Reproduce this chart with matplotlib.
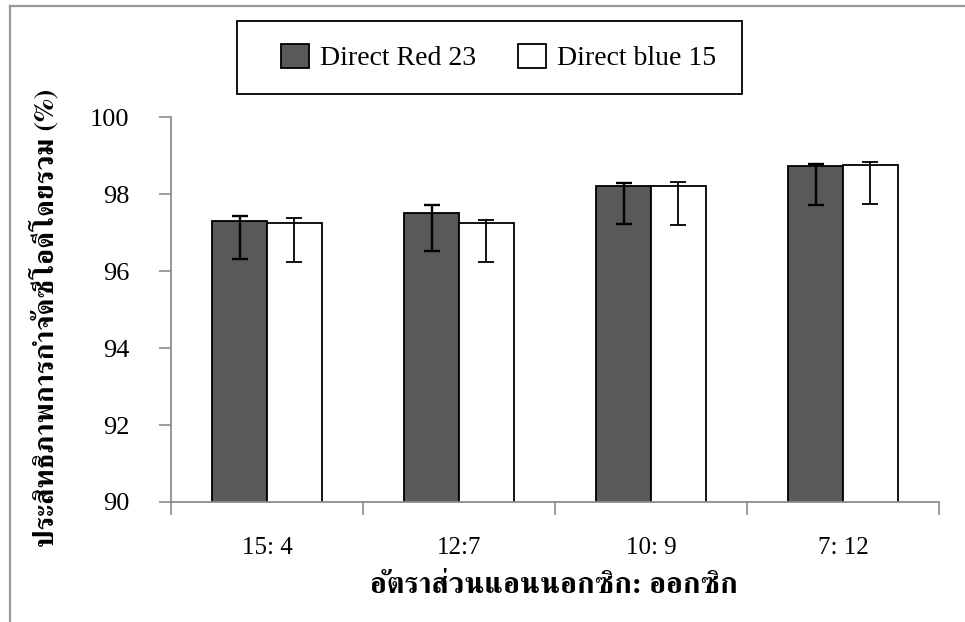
import matplotlib
matplotlib.use('Agg')
import matplotlib.pyplot as plt
from matplotlib.lines import Line2D
from matplotlib.patches import Rectangle
import numpy as np

# data
ratios = ['15: 4', '12:7', '10: 9', '7: 12']
red23 = [97.31, 97.52, 98.22, 98.73]
red23_up = [0.12, 0.19, 0.07, 0.06]
red23_low = [1.0, 1.0, 1.0, 1.0]
blue15 = [97.24, 97.24, 98.21, 98.75]
blue15_up = [0.13, 0.08, 0.10, 0.08]
blue15_low = [1.0, 1.0, 1.0, 1.0]

ylabel_text = 'ประสิทธิภาพการกำจัดซีโอดีโดยรวม (%)'
xlabel_text = 'อัตราส่วนแอนนอกซิก: ออกซิก'

plt.rcParams['font.family'] = ['Liberation Serif', 'FreeSerif', 'DejaVu Sans']

W, H = 965, 622
fig = plt.figure(figsize=(W / 100, H / 100), dpi=100)
ax = fig.add_axes([171 / W, 1 - 502 / H, (939 - 171) / W, (502 - 117.3) / H])

x = np.arange(len(ratios))
w = 0.286
ax.bar(x - w / 2, red23, w, color='#595959', edgecolor='black', linewidth=1.3,
       label='Direct Red 23', zorder=2)
ax.bar(x + w / 2, blue15, w, color='white', edgecolor='black', linewidth=1.3,
       label='Direct blue 15', zorder=2)
ax.errorbar(x - w / 2, red23, yerr=[red23_low, red23_up], fmt='none', ecolor='black',
            elinewidth=1.7, capsize=5.5, capthick=1.7, zorder=3)
ax.errorbar(x + w / 2, blue15, yerr=[blue15_low, blue15_up], fmt='none', ecolor='black',
            elinewidth=1.3, capsize=5.5, capthick=1.3, zorder=3)

ax.set_ylim(90, 100)
ax.set_xlim(-0.5, len(ratios) - 0.5)
ax.set_yticks([90, 92, 94, 96, 98, 100])
ax.tick_params(axis='y', labelsize=19, length=9, width=1.2, color='#8c8c8c', pad=21)

ax.set_xticks(np.arange(-0.5, len(ratios)), minor=False)
ax.set_xticklabels([])
ax.set_xticks(x, minor=True)
ax.set_xticklabels(ratios, minor=True)
ax.tick_params(axis='x', which='major', length=9, width=1.2, color='#8c8c8c')
ax.tick_params(axis='x', which='minor', length=0, labelsize=18, pad=25)

for side in ['top', 'right']:
    ax.spines[side].set_visible(False)
for side in ['left', 'bottom']:
    ax.spines[side].set_color('#8c8c8c')
    ax.spines[side].set_linewidth(1.3)

fig.text(45 / W, 1 - 318 / H, ylabel_text, rotation=90, ha='center', va='center',
         fontsize=20.5, fontweight='bold', family=['FreeSerif'])
fig.text(554 / W, 1 - 586 / H, xlabel_text, ha='center', va='center',
         fontsize=21.5, fontweight='bold', family=['FreeSerif'])

# legend without frame, box drawn separately
fig.legend(loc='center', bbox_to_anchor=(498.5 / W, 1 - 57.5 / H), ncol=2, fontsize=20,
           frameon=False, handlelength=1.0, handleheight=1.0, handletextpad=0.4,
           columnspacing=1.5, borderpad=0)
fig.add_artist(Rectangle((237 / W, 1 - 94 / H), (742 - 237) / W, (94 - 21) / H,
                         transform=fig.transFigure, fill=False, edgecolor='black',
                         linewidth=1.3))

# grey border on top and left
fig.add_artist(Line2D([10 / W, 1], [1 - 5.5 / H, 1 - 5.5 / H], transform=fig.transFigure,
                      color='#999999', linewidth=1.6))
fig.add_artist(Line2D([10 / W, 10 / W], [0, 1 - 5.5 / H], transform=fig.transFigure,
                      color='#999999', linewidth=1.6))

fig.savefig('out.png', dpi=100)
